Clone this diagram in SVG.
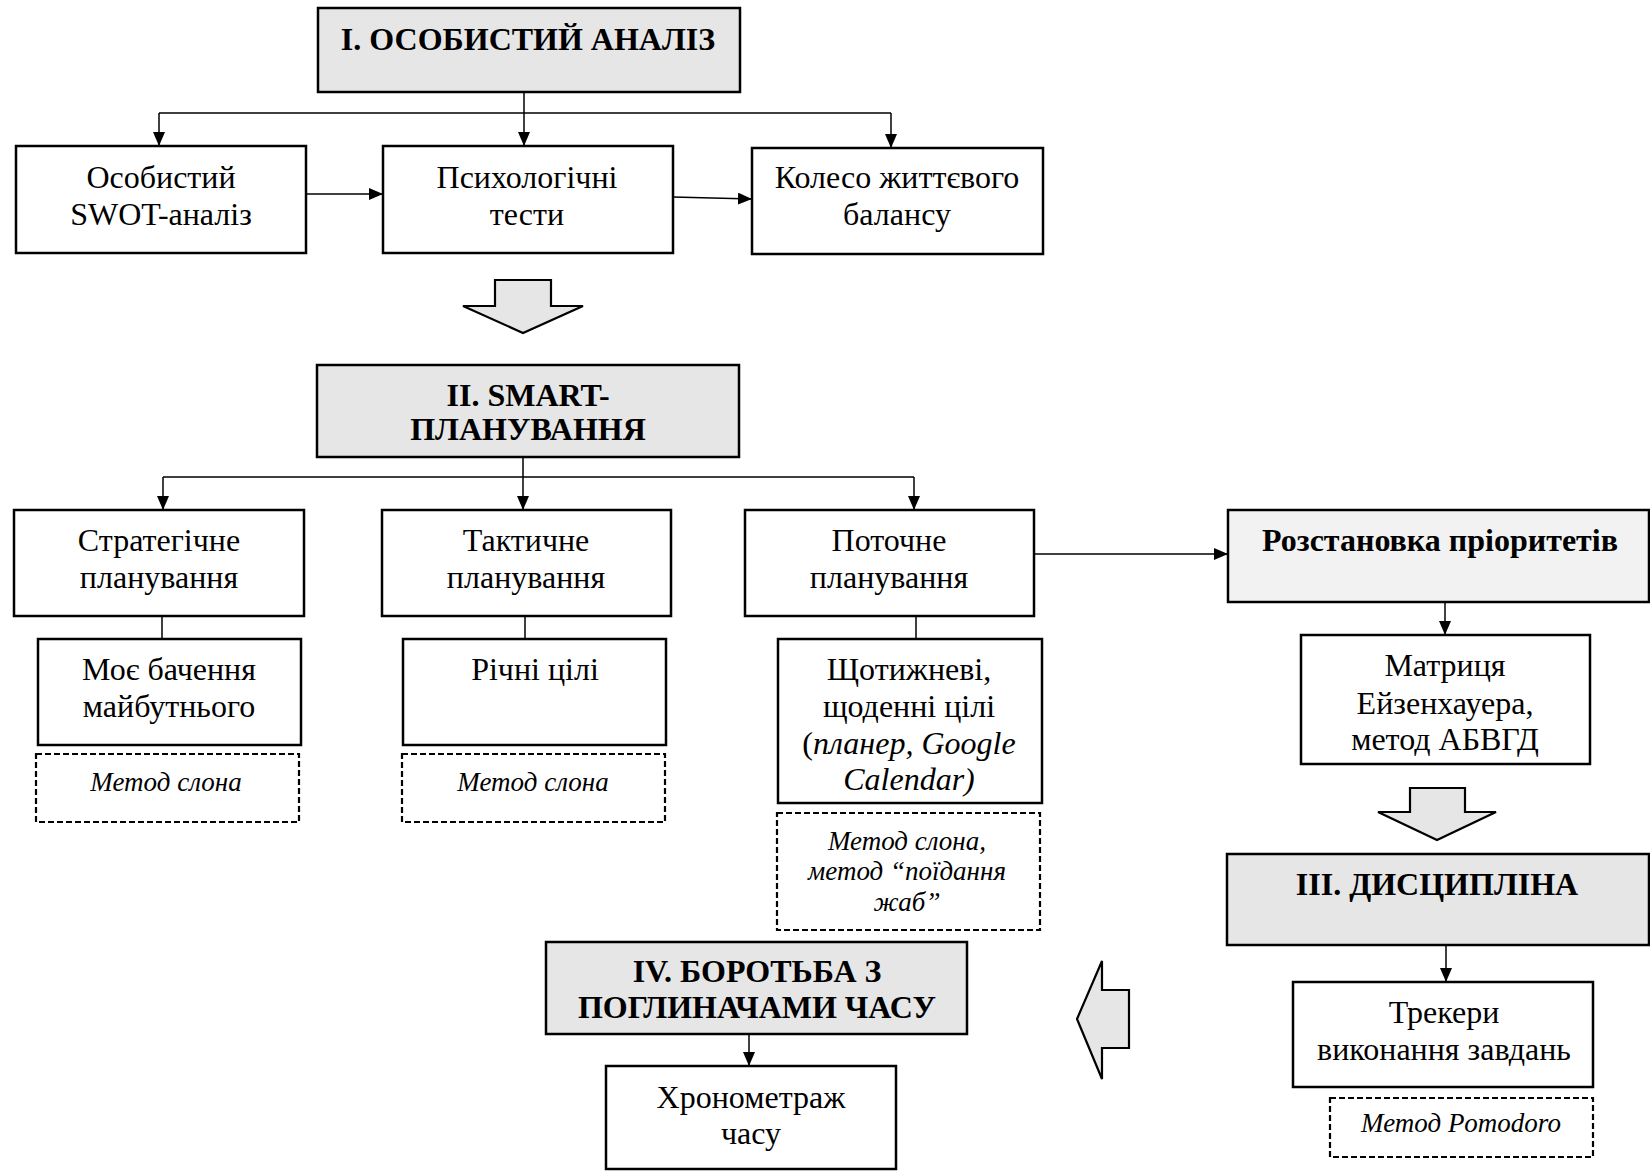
<svg xmlns="http://www.w3.org/2000/svg" width="1650" height="1171" viewBox="0 0 1650 1171">
<style>
.box{fill:#fff;stroke:#000;stroke-width:2.5}
.title{fill:#e6e6e6;stroke:#000;stroke-width:2.5}
.light{fill:#f2f2f2;stroke:#000;stroke-width:2.5}
.dash{fill:#fff;stroke:#000;stroke-width:2.2;stroke-dasharray:6 3}
.big{fill:#e6e6e6;stroke:#000;stroke-width:2.2;stroke-linejoin:miter}
.t{font-family:"Liberation Serif","Times New Roman",serif;font-size:32px;text-anchor:middle;fill:#000}
.b{font-family:"Liberation Serif","Times New Roman",serif;font-size:32px;font-weight:bold;text-anchor:middle;fill:#000}
.i{font-family:"Liberation Serif","Times New Roman",serif;font-size:27px;font-style:italic;text-anchor:middle;fill:#000}
.c{fill:none;stroke:#000;stroke-width:1.5}
</style>
<defs>
<marker id="ahL" viewBox="0 0 14 12" refX="14" refY="6" markerWidth="14" markerHeight="12" markerUnits="userSpaceOnUse" orient="auto">
<path d="M0,0 L14,6 L0,12 z" fill="#000"/>
</marker>
</defs>

<g id="connectors">
<path class="c" d="M524,92 V113 M159,113 H891"/>
<path class="c" d="M159,113 V146" marker-end="url(#ahL)"/>
<path class="c" d="M524,113 V146" marker-end="url(#ahL)"/>
<path class="c" d="M891,113 V148" marker-end="url(#ahL)"/>
<path class="c" d="M306,194 H383" marker-end="url(#ahL)"/>
<path class="c" d="M673,197 L752,199" marker-end="url(#ahL)"/>
<path class="c" d="M523,457 V477 M163,477 H914"/>
<path class="c" d="M163,477 V510" marker-end="url(#ahL)"/>
<path class="c" d="M523,477 V510" marker-end="url(#ahL)"/>
<path class="c" d="M914,477 V510" marker-end="url(#ahL)"/>
<path class="c" d="M1034,554 H1228" marker-end="url(#ahL)"/>
<path class="c" d="M162,616 V639 M525,616 V639 M916,616 V639"/>
<path class="c" d="M1445,602 V635" marker-end="url(#ahL)"/>
<path class="c" d="M1446,945 V982" marker-end="url(#ahL)"/>
<path class="c" d="M749,1034 V1066" marker-end="url(#ahL)"/>
</g>

<g id="n1"><rect class="title" x="318" y="8" width="422" height="84"/><text class="b" x="528" y="50">I. ОСОБИСТИЙ АНАЛІЗ</text></g>
<g id="n2"><rect class="box" x="16" y="146" width="290" height="107"/><text class="t" x="161" y="188">Особистий</text><text class="t" x="161" y="225">SWOT-аналіз</text></g>
<g id="n3"><rect class="box" x="383" y="146" width="290" height="107"/><text class="t" x="527" y="188">Психологічні</text><text class="t" x="527" y="225">тести</text></g>
<g id="n4"><rect class="box" x="752" y="148" width="291" height="106"/><text class="t" x="897" y="188">Колесо життєвого</text><text class="t" x="897" y="225">балансу</text></g>

<g id="arrow1"><path class="big" d="M495,280 H551 V306 H583 L523,333 L463,306 H495 Z"/></g>

<g id="n5"><rect class="title" x="317" y="365" width="422" height="92"/><text class="b" x="528" y="406">II. SMART-</text><text class="b" x="528" y="440">ПЛАНУВАННЯ</text></g>
<g id="n6"><rect class="box" x="14" y="510" width="290" height="106"/><text class="t" x="159" y="551">Стратегічне</text><text class="t" x="159" y="588">планування</text></g>
<g id="n7"><rect class="box" x="382" y="510" width="289" height="106"/><text class="t" x="526" y="551">Тактичне</text><text class="t" x="526" y="588">планування</text></g>
<g id="n8"><rect class="box" x="745" y="510" width="289" height="106"/><text class="t" x="889" y="551">Поточне</text><text class="t" x="889" y="588">планування</text></g>
<g id="n9"><rect class="light" x="1228" y="510" width="421" height="92"/><text class="b" x="1440" y="551">Розстановка пріоритетів</text></g>

<g id="n10"><rect class="box" x="38" y="639" width="263" height="106"/><text class="t" x="169" y="680">Моє бачення</text><text class="t" x="169" y="717">майбутнього</text></g>
<g id="n11"><rect class="dash" x="36" y="754" width="263" height="68"/><text class="i" x="166" y="791">Метод слона</text></g>
<g id="n12"><rect class="box" x="403" y="639" width="263" height="106"/><text class="t" x="535" y="680">Річні цілі</text></g>
<g id="n13"><rect class="dash" x="402" y="754" width="263" height="68"/><text class="i" x="533" y="791">Метод слона</text></g>
<g id="n14"><rect class="box" x="778" y="639" width="264" height="164"/><text class="t" x="909" y="680">Щотижневі,</text><text class="t" x="909" y="717">щоденні цілі</text><text class="t" x="909" y="754">(<tspan font-style="italic">планер, Google</tspan></text><text class="t" x="909" y="790" font-style="italic">Calendar)</text></g>
<g id="n15"><rect class="dash" x="777" y="813" width="263" height="117"/><text class="i" x="907" y="850">Метод слона,</text><text class="i" x="907" y="880">метод “поїдання</text><text class="i" x="907" y="911">жаб”</text></g>

<g id="n16"><rect class="box" x="1301" y="635" width="289" height="129"/><text class="t" x="1445" y="676">Матриця</text><text class="t" x="1445" y="714">Ейзенхауера,</text><text class="t" x="1445" y="750">метод АБВГД</text></g>
<g id="arrow2"><path class="big" d="M1410,788 H1465 V812 H1496 L1437,840 L1378,812 H1410 Z"/></g>
<g id="n17"><rect class="title" x="1227" y="854" width="422" height="91"/><text class="b" x="1437" y="895">III. ДИСЦИПЛІНА</text></g>
<g id="n18"><rect class="box" x="1293" y="982" width="300" height="105"/><text class="t" x="1444" y="1023">Трекери</text><text class="t" x="1444" y="1060">виконання завдань</text></g>
<g id="n19"><rect class="dash" x="1330" y="1098" width="263" height="59"/><text class="i" x="1461" y="1132">Метод Pomodoro</text></g>

<g id="arrow3"><path class="big" d="M1077,1019 L1102,961 V990 H1129 V1048 H1102 V1079 Z"/></g>
<g id="n20"><rect class="title" x="546" y="942" width="421" height="92"/><text class="b" x="757" y="982">IV. БОРОТЬБА З</text><text class="b" x="757" y="1018">ПОГЛИНАЧАМИ ЧАСУ</text></g>
<g id="n21"><rect class="box" x="606" y="1066" width="290" height="103"/><text class="t" x="751" y="1108">Хронометраж</text><text class="t" x="751" y="1144">часу</text></g>
</svg>
